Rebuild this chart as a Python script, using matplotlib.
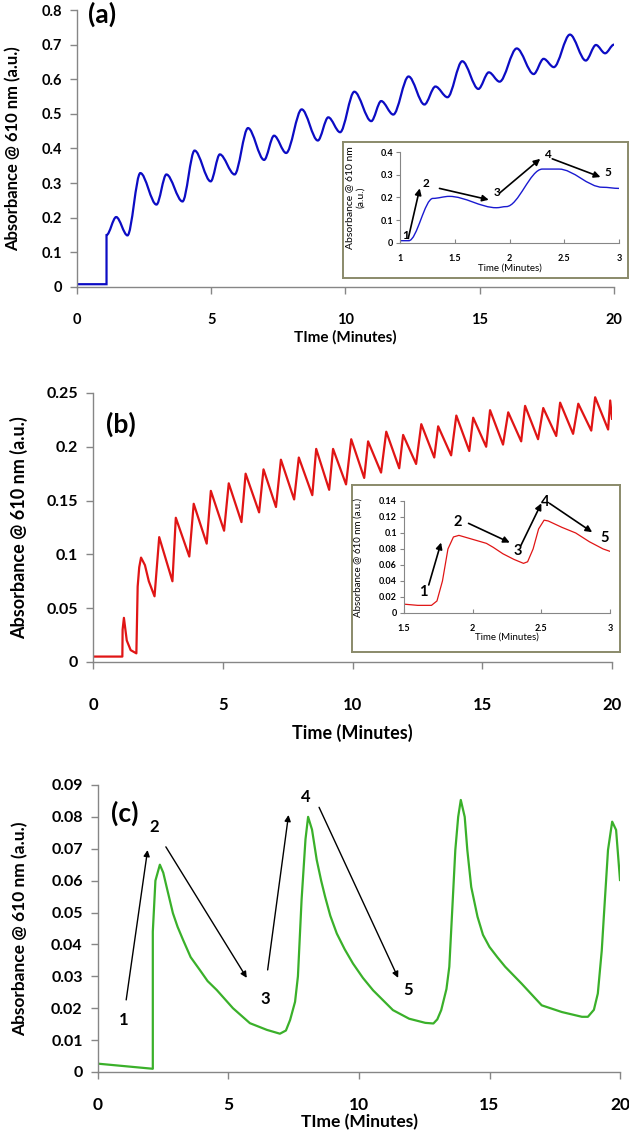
import matplotlib
matplotlib.use('Agg')
import matplotlib.pyplot as plt
from matplotlib.path import Path
from matplotlib.patches import PathPatch

plt.rcParams['font.family'] = ['Lato', 'DejaVu Sans']
plt.rcParams['font.weight'] = 'bold'

# ---- panel (a): turning points of the trace (minutes, absorbance)
a_time = [0, 1.1, 1.1, 1.46, 1.88, 2.36, 2.96, 3.33, 3.93, 4.38, 4.98, 5.32, 5.87, 6.37, 6.97,
          7.34, 7.79, 8.37, 8.97, 9.36, 9.8, 10.33, 10.96, 11.33, 11.78, 12.35, 12.94, 13.35,
          13.8, 14.35, 14.95, 15.34, 15.74, 16.38, 17.01, 17.38, 17.76, 18.36, 18.95, 19.33,
          19.67, 20.0]
a_abs = [0.008, 0.008, 0.15, 0.202, 0.149, 0.329, 0.238, 0.325, 0.247, 0.394, 0.305, 0.383,
         0.325, 0.459, 0.367, 0.437, 0.387, 0.513, 0.423, 0.49, 0.447, 0.564, 0.479, 0.537,
         0.498, 0.608, 0.527, 0.579, 0.548, 0.652, 0.572, 0.62, 0.593, 0.689, 0.615, 0.659,
         0.635, 0.729, 0.654, 0.699, 0.675, 0.70]
a_inset_time = [1.0, 1.08, 1.3, 1.45, 1.88, 1.97, 2.3, 2.45, 2.85, 3.0]
a_inset_abs = [0.01, 0.01, 0.196, 0.205, 0.155, 0.16, 0.325, 0.325, 0.245, 0.24]
a_inset_marks = ['1', '2', '3', '4', '5']
a_inset_mark_xy = [(1.05, 0.035), (1.24, 0.26), (1.89, 0.22), (2.35, 0.39), (2.9, 0.31)]
a_inset_arrows = [((1.075, 0.02), (1.18, 0.24)), ((1.36, 0.24), (1.81, 0.19)),
                  ((1.91, 0.22), (2.28, 0.37)), ((2.39, 0.37), (2.83, 0.29))]

# ---- panel (b)
b_time = [0, 1.13, 1.14, 1.19, 1.3, 1.45, 1.67, 1.72, 1.78, 1.85, 2.0, 2.15, 2.37,
          2.55, 3.06, 3.19, 3.71, 3.88, 4.38, 4.54, 5.05, 5.23, 5.72, 5.88, 6.4, 6.57, 7.05,
          7.24, 7.75, 7.93, 8.45, 8.6, 9.1, 9.25, 9.75, 9.95, 10.45, 10.6, 11.1, 11.3, 11.8,
          11.95, 12.45, 12.65, 13.15, 13.3, 13.8, 14.0, 14.5, 14.65, 15.15, 15.3, 15.8, 16.0,
          16.5, 16.65, 17.15, 17.35, 17.85, 18.0, 18.5, 18.7, 19.2, 19.35, 19.85, 19.93, 20.0]
b_abs = [0.005, 0.005, 0.03, 0.041, 0.02, 0.011, 0.008, 0.07, 0.088, 0.097, 0.09, 0.075, 0.061,
         0.116, 0.075, 0.134, 0.098, 0.147, 0.11, 0.159, 0.122, 0.166, 0.13, 0.175, 0.139, 0.179,
         0.144, 0.188, 0.151, 0.19, 0.155, 0.198, 0.16, 0.198, 0.165, 0.207, 0.171, 0.205, 0.176,
         0.214, 0.18, 0.211, 0.184, 0.221, 0.19, 0.219, 0.192, 0.229, 0.196, 0.227, 0.2, 0.234,
         0.202, 0.232, 0.205, 0.238, 0.207, 0.236, 0.21, 0.241, 0.212, 0.24, 0.215, 0.246, 0.216,
         0.243, 0.226]
b_inset_time = [1.5, 1.6, 1.7, 1.74, 1.78, 1.82, 1.86, 1.9, 2.0, 2.1, 2.15, 2.22, 2.3, 2.37,
                2.4, 2.44, 2.48, 2.52, 2.55, 2.65, 2.75, 2.85, 2.95, 3.0]
b_inset_abs = [0.011, 0.0095, 0.0095, 0.015, 0.04, 0.08, 0.095, 0.097, 0.092, 0.087, 0.082,
               0.074, 0.067, 0.062, 0.064, 0.08, 0.105, 0.116, 0.115, 0.107, 0.1, 0.089, 0.08,
               0.077]
b_inset_marks = ['1', '2', '3', '4', '5']
b_inset_mark_xy = [(1.64, 0.026), (1.89, 0.114), (2.33, 0.078), (2.53, 0.139), (2.96, 0.094)]
b_inset_arrows = [((1.68, 0.035), (1.77, 0.088)), ((1.97, 0.112), (2.27, 0.088)),
                  ((2.35, 0.084), (2.5, 0.137)), ((2.56, 0.137), (2.87, 0.101))]

# ---- panel (c)
c_time = [0, 2.1, 2.1, 2.2, 2.37, 2.5, 2.63, 2.87, 3.05, 3.26, 3.55, 3.9, 4.2, 4.55, 5.17, 5.82,
          6.47, 6.97, 7.2, 7.36, 7.55, 7.66, 7.8, 7.95, 8.05, 8.2, 8.38, 8.55, 8.7, 8.9, 9.15,
          9.45, 9.77, 10.15, 10.54, 11.3, 11.92, 12.54, 12.85, 13.0, 13.15, 13.35, 13.46, 13.58,
          13.69, 13.8, 13.9, 14.05, 14.15, 14.3, 14.54, 14.75, 15.0, 15.3, 15.6, 16.23, 17.0,
          17.77, 18.54, 18.77, 19.0, 19.15, 19.3, 19.38, 19.54, 19.7, 19.85, 20.0]
c_abs = [0.0026, 0.001, 0.044, 0.06, 0.065, 0.0625, 0.058, 0.0498, 0.0455, 0.0414, 0.036,
         0.032, 0.0285, 0.0257, 0.02, 0.0153, 0.0132, 0.012, 0.013, 0.0163, 0.022, 0.03, 0.054,
         0.073, 0.08, 0.076, 0.0665, 0.06, 0.055, 0.049, 0.0434, 0.0385, 0.034, 0.0295, 0.0256,
         0.0194, 0.0167, 0.0154, 0.0152, 0.0165, 0.0194, 0.026, 0.033, 0.052, 0.0696, 0.08,
         0.0853, 0.08, 0.0696, 0.058, 0.0487, 0.043, 0.0392, 0.036, 0.033, 0.0277, 0.0209,
         0.0188, 0.0173, 0.0173, 0.0195, 0.0246, 0.038, 0.0487, 0.0696, 0.0785, 0.0759, 0.0602]
c_marks = ['1', '2', '3', '4', '5']
c_mark_xy = [(1.0, 0.0163), (2.16, 0.0768), (6.4, 0.0229), (7.95, 0.0862), (11.9, 0.0257)]
c_arrows = [((1.08, 0.0226), (1.9, 0.0696)), ((2.6, 0.0706), (5.7, 0.0295)),
            ((6.5, 0.032), (7.3, 0.0806)), ((8.47, 0.083), (11.5, 0.0295))]

GRAY = '#868686'
FRAME = '#8a8a6a'


def smooth_trace(ax, x, y, **kwargs):
    # bezier segments with flat tangents at the turning points, plain line for vertical jumps
    verts = [(x[0], y[0])]
    codes = [Path.MOVETO]
    for i in range(1, len(x)):
        dx = (x[i] - x[i - 1]) / 3.0
        if dx == 0:
            verts.append((x[i], y[i]))
            codes.append(Path.LINETO)
            continue
        verts += [(x[i - 1] + dx, y[i - 1]), (x[i] - dx, y[i]), (x[i], y[i])]
        codes += [Path.CURVE4] * 3
    ax.add_patch(PathPatch(Path(verts, codes), fill=False, capstyle='round', **kwargs))


def style_main(ax, ylim, yticks, tick_size, xtick_size, label_size, xlabel, ylabel_x,
               xpad=14, xlabelpad=2):
    ax.set_xlim(0, 20)
    ax.set_ylim(*ylim)
    ax.set_xticks([0, 5, 10, 15, 20])
    ax.set_yticks(yticks)
    ax.set_yticklabels(['%g' % t for t in yticks])
    for side in ('top', 'right'):
        ax.spines[side].set_visible(False)
    for side in ('left', 'bottom'):
        ax.spines[side].set_color(GRAY)
        ax.spines[side].set_linewidth(1.0)
    ax.tick_params(axis='both', colors=GRAY, length=5, width=1.0, labelcolor='black')
    ax.tick_params(axis='x', pad=xpad, labelsize=xtick_size)
    ax.tick_params(axis='y', pad=6, labelsize=tick_size)
    ax.set_xlabel(xlabel, fontsize=label_size, fontweight='bold', labelpad=xlabelpad)
    ax.set_ylabel('Absorbance @ 610 nm (a.u.)', fontsize=label_size, fontweight='bold')
    ax.yaxis.set_label_coords(ylabel_x, 0.5)


def add_inset(fig, frame_rect, ax_rect, xlim, xticks, ylim, yticks, ylabel, label_x, label_size):
    frame = fig.add_axes(frame_rect, zorder=3)
    frame.set_xticks([])
    frame.set_yticks([])
    for sp in frame.spines.values():
        sp.set_color(FRAME)
        sp.set_linewidth(1.4)
    ins = fig.add_axes(ax_rect, zorder=4)
    ins.patch.set_alpha(0)
    ins.set_xlim(*xlim)
    ins.set_ylim(*ylim)
    ins.set_xticks(xticks)
    ins.set_xticklabels(['%g' % t for t in xticks])
    ins.set_yticks(yticks)
    ins.set_yticklabels(['%g' % t for t in yticks])
    for side in ('top', 'right'):
        ins.spines[side].set_visible(False)
    for side in ('left', 'bottom'):
        ins.spines[side].set_color(GRAY)
        ins.spines[side].set_linewidth(0.8)
    ins.tick_params(axis='both', colors=GRAY, labelcolor='black', labelsize=6.5, width=0.8)
    ins.tick_params(axis='x', direction='in', length=3, pad=8)
    ins.tick_params(axis='y', direction='out', length=3, pad=2)
    ins.set_xlabel('Time (Minutes)', fontsize=7, fontweight='normal', labelpad=0)
    ins.set_ylabel(ylabel, fontsize=label_size, fontweight='normal', linespacing=1.2)
    ins.yaxis.set_label_coords(label_x, 0.5)
    return ins


def add_marks(ax, marks, mark_xy, arrows, size, lw):
    for arrow_from, arrow_to in arrows:
        ax.annotate('', xy=arrow_to, xytext=arrow_from,
                    arrowprops=dict(arrowstyle='-|>', color='black', lw=lw,
                                    mutation_scale=7 + 2 * lw, shrinkA=0, shrinkB=0))
    for mark, (mx, my) in zip(marks, mark_xy):
        ax.text(mx, my, mark, fontsize=size, fontweight='bold', ha='center', va='center')


fig = plt.figure(figsize=(6.29, 11.37), dpi=100)

# ---- (a)
ax_a = fig.add_axes([0.1224, 0.7476, 0.8537, 0.2436])
smooth_trace(ax_a, a_time, a_abs, color='#0c0cc4', lw=1.6)
style_main(ax_a, (0, 0.8), [0, 0.1, 0.2, 0.3, 0.4, 0.5, 0.6, 0.7, 0.8], 10.5, 10.5, 11,
           'TIme (Minutes)', -0.103)
ax_a.yaxis.label.set_fontsize(12)
ax_a.text(0.02, 0.985, '(a)', transform=ax_a.transAxes, fontsize=19, fontweight='bold',
          ha='left', va='center')
ins_a = add_inset(fig, [0.5453, 0.7555, 0.4531, 0.1196], [0.636, 0.7863, 0.3482, 0.08],
                  (1, 3), [1, 1.5, 2, 2.5, 3], (0, 0.4), [0, 0.1, 0.2, 0.3, 0.4],
                  'Absorbance @ 610 nm\n(a.u.)', -0.16, 7.5)
smooth_trace(ins_a, a_inset_time, a_inset_abs, color='#1a1ad0', lw=1.0)
add_marks(ins_a, a_inset_marks, a_inset_mark_xy, a_inset_arrows, 8.5, 1.2)

# ---- (b)
ax_b = fig.add_axes([0.1479, 0.4178, 0.8251, 0.2366])
ax_b.plot(b_time, b_abs, color='#e01515', lw=1.6)
style_main(ax_b, (0, 0.25), [0, 0.05, 0.1, 0.15, 0.2, 0.25], 11.5, 12, 13,
           'Time (Minutes)', -0.125, xpad=20, xlabelpad=8)
ax_b.text(0.025, 0.885, '(b)', transform=ax_b.transAxes, fontsize=19, fontweight='bold',
          ha='left', va='center')
ins_b = add_inset(fig, [0.5596, 0.4266, 0.426, 0.1469], [0.6423, 0.4609, 0.3275, 0.0985],
                  (1.5, 3), [1.5, 2, 2.5, 3], (0, 0.14),
                  [0, 0.02, 0.04, 0.06, 0.08, 0.1, 0.12, 0.14],
                  'Absorbance @ 610 nm (a.u.)', -0.2, 7)
ins_b.plot(b_inset_time, b_inset_abs, color='#e01515', lw=0.9)
add_marks(ins_b, b_inset_marks, b_inset_mark_xy, b_inset_arrows, 10.5, 1.2)

# ---- (c)
ax_c = fig.add_axes([0.1558, 0.0572, 0.8299, 0.2524])
ax_c.plot(c_time, c_abs, color='#3ab02a', lw=1.6)
style_main(ax_c, (0, 0.09), [0, 0.01, 0.02, 0.03, 0.04, 0.05, 0.06, 0.07, 0.08, 0.09], 11.5,
           12.5, 12.5, 'TIme (Minutes)', -0.133, xpad=13, xlabelpad=1)
ax_c.text(0.025, 0.9, '(c)', transform=ax_c.transAxes, fontsize=19, fontweight='bold',
          ha='left', va='center')
add_marks(ax_c, c_marks, c_mark_xy, c_arrows, 12, 1.0)

fig.savefig('out.png', dpi=100)
